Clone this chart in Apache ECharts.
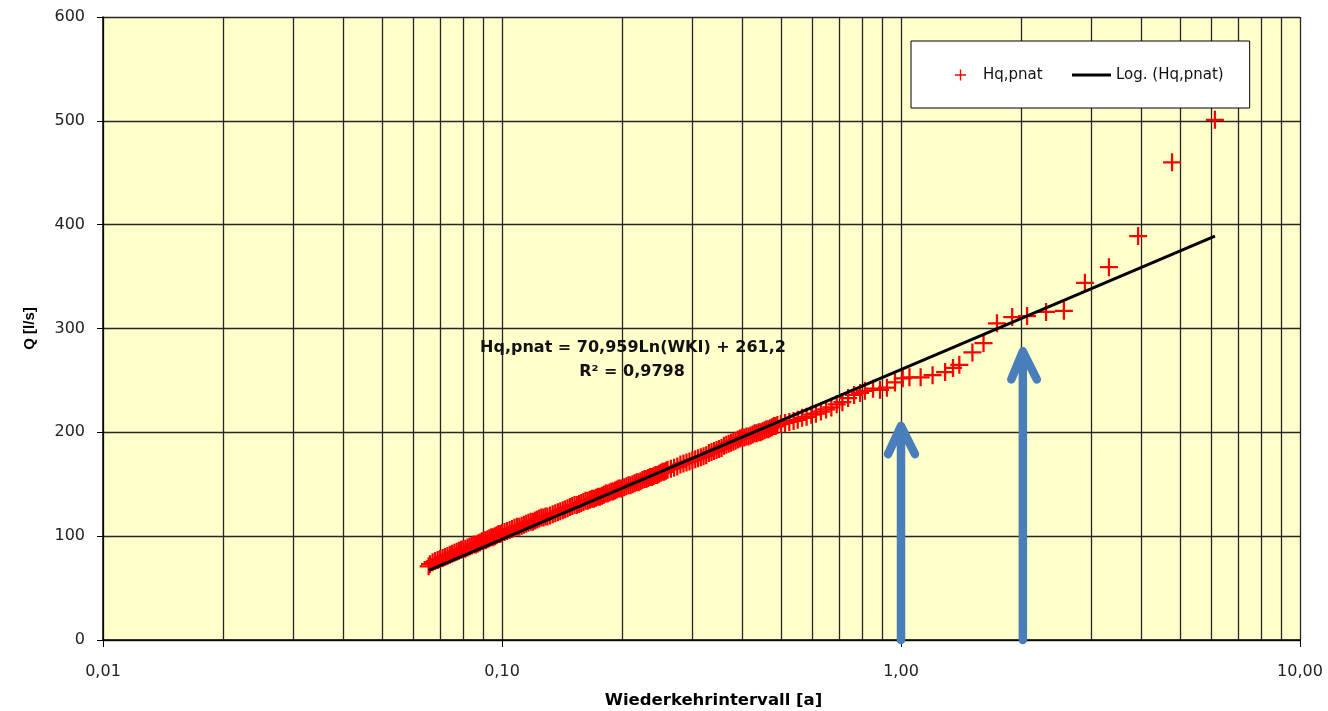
<!DOCTYPE html>
<html><head><meta charset="utf-8">
<script src="https://cdn.jsdelivr.net/npm/echarts@6/dist/echarts.min.js"></script>
<style>html,body{margin:0;padding:0;background:#fff}#chart{width:1328px;height:711px}</style>
</head><body><div id="chart"></div>
<script>
// Wiederkehrintervall [a] (return interval) for each observed Hq,pnat value
const wki = [6.12, 4.78, 3.93, 3.32, 2.89, 2.56, 2.31, 2.07, 1.90, 1.74, 1.61, 1.51, 1.40, 1.35, 1.29, 1.20, 1.12, 1.05, 1.01, 0.966, 0.922, 0.886, 0.851, 0.812,
  0.79, 0.763, 0.737, 0.713, 0.69, 0.669, 0.649, 0.63, 0.612, 0.596, 0.58, 0.565, 0.551, 0.538, 0.525, 0.512, 0.50,
  0.49, 0.485, 0.48, 0.475, 0.47, 0.465, 0.46, 0.455, 0.45, 0.445, 0.44, 0.435, 0.43, 0.425, 0.42, 0.415, 0.41, 0.405, 0.40,
  0.395, 0.39, 0.385, 0.38, 0.375, 0.37, 0.365, 0.36,
  0.355, 0.35, 0.345, 0.34, 0.335, 0.33, 0.325, 0.32, 0.315, 0.31, 0.305, 0.30, 0.295, 0.29, 0.285, 0.28, 0.275, 0.27, 0.265, 0.26,
  0.2575, 0.255, 0.2525, 0.25, 0.2475, 0.245, 0.2425, 0.24, 0.2375, 0.235, 0.2325, 0.23, 0.2275, 0.225, 0.2225, 0.22,
  0.2175, 0.215, 0.2125, 0.21, 0.2075, 0.205, 0.2025, 0.20,
  0.198, 0.196, 0.194, 0.192, 0.190, 0.188, 0.186, 0.184, 0.182, 0.180, 0.178, 0.176, 0.174, 0.172, 0.170, 0.168, 0.166, 0.164,
  0.162, 0.160, 0.158, 0.156, 0.154, 0.152, 0.150, 0.148, 0.146, 0.144, 0.142, 0.140, 0.138, 0.136, 0.134, 0.132, 0.130,
  0.1285, 0.127, 0.1255, 0.124, 0.1225, 0.121, 0.1195, 0.118, 0.1165, 0.115, 0.1135, 0.112, 0.1105, 0.109, 0.1075, 0.106,
  0.1045, 0.103, 0.1015, 0.100,
  0.099, 0.098, 0.097, 0.096, 0.095, 0.094, 0.093, 0.092, 0.091, 0.090, 0.089, 0.088, 0.087, 0.086, 0.085, 0.084, 0.083,
  0.082, 0.081, 0.080, 0.079, 0.078, 0.077, 0.076, 0.075, 0.074, 0.073, 0.072, 0.071, 0.070, 0.069, 0.068, 0.067, 0.066, 0.0655];
// Q [l/s]
const hq = [501, 460, 389, 359, 344, 317, 316, 312, 311, 305, 286, 277, 265, 262, 258, 255, 253, 253, 252, 248, 243, 241, 242, 240,
  238, 236, 233, 229, 227, 224, 222, 220, 218, 217, 215, 214, 212, 211, 210, 209, 208,
  207, 206, 206, 205, 204, 203, 203, 202, 201, 200, 200, 199, 199, 198, 197, 196, 196, 195, 195,
  194, 193, 192, 191, 190, 189, 188, 187,
  185, 184, 183, 182, 181, 180, 178, 177, 176, 175, 174, 173, 172, 171, 170, 169, 167, 166, 165, 164,
  163, 162, 162, 161, 160, 159, 159, 158, 157, 157, 156, 155, 155, 154, 153, 152,
  152, 151, 150, 149, 149, 148, 147, 146,
  146, 146, 145, 144, 143, 143, 142, 141, 141, 140, 139, 138, 138, 137, 136, 136, 135, 134,
  134, 133, 132, 131, 130, 130, 129, 128, 127, 126, 125, 124, 123, 122, 121, 120, 119,
  119, 118, 118, 117, 116, 115, 114, 114, 113, 112, 111, 110, 109, 109, 108, 107,
  106, 105, 104, 103,
  102, 102, 101, 100, 99, 99, 98, 97, 96, 96, 95, 94, 93, 92, 92, 91, 90,
  89, 88, 88, 87, 86, 85, 84, 83, 82, 81, 80, 79, 78, 77, 76, 75, 73, 71];
// logarithmic trendline end points
const trendWki = [0.0655, 6.12];
const trendHq = [67, 389];
// minor vertical gridlines of the log axis
const minorGridWki = [0.02, 0.03, 0.04, 0.05, 0.06, 0.07, 0.08, 0.09, 0.2, 0.3, 0.4, 0.5, 0.6, 0.7, 0.8, 0.9, 2, 3, 4, 5, 6, 7, 8, 9];
// blue annotation arrows (shaft bottom, tip, left arm, tip, right arm)
const arrow1Wki = [1, 1, 0.928, 1, 1.084];
const arrow1Q = [0, 206, 179, 206, 179];
const arrow2Wki = [2.02, 2.02, 1.89, 2.02, 2.19];
const arrow2Q = [0, 278, 251, 278, 251];
const equationLines = ['Hq,pnat = 70,959Ln(WKI) + 261,2', 'R\u00b2 = 0,9798'];

const crossPath = 'path://M7,0H9V7H16V9H9V16H7V9H0V7H7Z';
const legendLinePath = 'path://M0,0H39V3H0Z';
const zip = (a, b) => a.map((v, i) => [v, b[i]]);

const chart = echarts.init(document.getElementById('chart'), null, {renderer: 'canvas'});
const arrowStyle = {color: '#4a7ebb', width: 8.5, cap: 'round', join: 'round'};
const gridColor = '#262626';
chart.setOption({
  animation: false,
  textStyle: {fontFamily: 'DejaVu Sans'},
  grid: {left: 103, right: 28, top: 17, bottom: 71, show: true, backgroundColor: '#ffffcc', borderWidth: 0,
    containLabel: false, outerBoundsMode: 'none'},
  legend: [
    {
      data: [{name: 'Hq,pnat', icon: crossPath}],
      left: 911, top: 41, orient: 'horizontal',
      backgroundColor: '#ffffff', borderColor: '#000', borderWidth: 1, borderRadius: 0,
      padding: [25, 207, 24, 44], itemWidth: 11, itemHeight: 11,
      textStyle: {fontFamily: 'DejaVu Sans', fontSize: 15, color: '#111', lineHeight: 18, padding: [0, 0, 0, 12]},
      selectedMode: false, z: 6
    },
    {
      data: [{name: 'Log. (Hq,pnat)', icon: legendLinePath}],
      left: 1072, top: 66, orient: 'horizontal', padding: 0,
      itemWidth: 39, itemHeight: 3,
      textStyle: {fontFamily: 'DejaVu Sans', fontSize: 15, color: '#111', lineHeight: 18},
      selectedMode: false, z: 7
    }
  ],
  xAxis: {
    type: 'log', logBase: 10, min: 0.01, max: 10,
    axisLine: {show: true, onZero: false, lineStyle: {color: '#000', width: 1.5}},
    axisTick: {show: true, length: 7, lineStyle: {color: '#000'}},
    axisLabel: {margin: 24, fontFamily: 'DejaVu Sans', fontSize: 16, color: '#222',
      formatter: v => Number(v).toFixed(2).replace('.', ',')},
    splitLine: {show: true, lineStyle: {color: gridColor, width: 1.3}},
    name: 'Wiederkehrintervall [a]', nameLocation: 'middle', nameGap: 52,
    nameTextStyle: {fontFamily: 'DejaVu Sans', fontWeight: 'bold', fontSize: 16.5, color: '#000', padding: [0, 0, 0, 24]}
  },
  yAxis: {
    type: 'value', min: 0, max: 600, interval: 100,
    axisLine: {show: true, lineStyle: {color: '#000', width: 1.5}},
    axisTick: {show: true, length: 6, lineStyle: {color: '#000'}},
    axisLabel: {margin: 18, fontFamily: 'DejaVu Sans', fontSize: 16, color: '#222'},
    splitLine: {show: true, lineStyle: {color: gridColor, width: 1.3}},
    name: 'Q [l/s]', nameLocation: 'middle', nameGap: 66, nameRotate: 90,
    nameTextStyle: {fontFamily: 'Liberation Sans', fontWeight: 'bold', fontSize: 15, color: '#000'}
  },
  series: [
    {type: 'line', name: 'minorGrid', data: [], silent: true,
      markLine: {silent: true, z: 1, symbol: ['none', 'none'], label: {show: false},
        lineStyle: {color: gridColor, width: 1.3, type: 'solid'}, emphasis: {disabled: true},
        animation: false, data: minorGridWki.map(v => ({xAxis: v}))}},
    {type: 'scatter', name: 'Hq,pnat', data: zip(wki, hq), symbol: crossPath, symbolSize: 18,
      itemStyle: {color: '#ff0000', opacity: 1}, z: 3, silent: true},
    {type: 'line', name: 'Log. (Hq,pnat)', data: zip(trendWki, trendHq), symbol: 'none',
      itemStyle: {color: '#000'}, lineStyle: {color: '#000', width: 3}, z: 4, silent: true},
    {type: 'line', name: 'arrow1', data: zip(arrow1Wki, arrow1Q), symbol: 'none', clip: false,
      lineStyle: arrowStyle, z: 5, silent: true},
    {type: 'line', name: 'arrow2', data: zip(arrow2Wki, arrow2Q), symbol: 'none', clip: false,
      lineStyle: arrowStyle, z: 5, silent: true}
  ],
  graphic: [
    {type: 'text', x: 633, y: 348, z: 10, style: {text: equationLines[0], font: 'bold 16px "DejaVu Sans"', fill: '#111', textAlign: 'center', textVerticalAlign: 'middle'}},
    {type: 'text', x: 632, y: 372, z: 10, style: {text: equationLines[1], font: 'bold 16px "DejaVu Sans"', fill: '#111', textAlign: 'center', textVerticalAlign: 'middle'}}
  ]
});
</script>
</body></html>
